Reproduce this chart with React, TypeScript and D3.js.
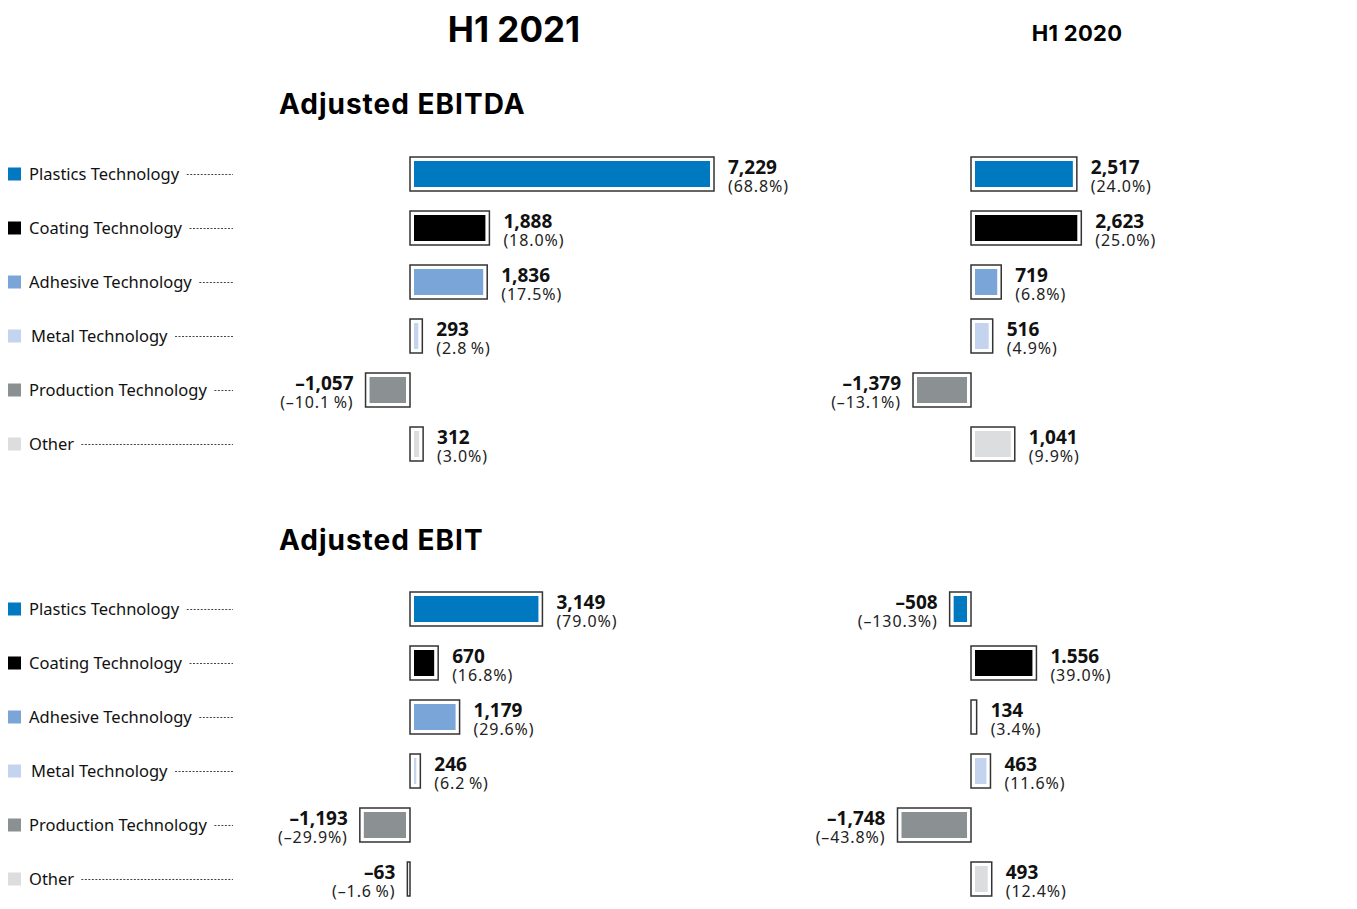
import React, { useEffect, useRef } from 'react';
import * as d3 from 'd3';

const categories = [
  'Plastics Technology',
  'Coating Technology',
  'Adhesive Technology',
  'Metal Technology',
  'Production Technology',
  'Other',
];
const colors = ['#0079c1', '#000000', '#7aa5d8', '#c4d4ee', '#8b9193', '#dcdddf'];

// Adjusted EBITDA
const ebitda2021 = [7229, 1888, 1836, 293, -1057, 312];
const ebitda2021Labels = ['7,229', '1,888', '1,836', '293', '–1,057', '312'];
const ebitda2021Pct = ['(68.8%)', '(18.0%)', '(17.5%)', '(2.8\u2009%)', '(–10.1\u2009%)', '(3.0%)'];
const ebitda2020 = [2517, 2623, 719, 516, -1379, 1041];
const ebitda2020Labels = ['2,517', '2,623', '719', '516', '–1,379', '1,041'];
const ebitda2020Pct = ['(24.0%)', '(25.0%)', '(6.8%)', '(4.9%)', '(–13.1%)', '(9.9%)'];

// Adjusted EBIT
const ebit2021 = [3149, 670, 1179, 246, -1193, -63];
const ebit2021Labels = ['3,149', '670', '1,179', '246', '–1,193', '–63'];
const ebit2021Pct = ['(79.0%)', '(16.8%)', '(29.6%)', '(6.2\u2009%)', '(–29.9%)', '(–1.6\u2009%)'];
const ebit2020 = [-508, 1556, 134, 463, -1748, 493];
const ebit2020Labels = ['–508', '1.556', '134', '463', '–1,748', '493'];
const ebit2020Pct = ['(–130.3%)', '(39.0%)', '(3.4%)', '(11.6%)', '(–43.8%)', '(12.4%)'];

const panels = [
  {
    title: 'Adjusted EBITDA',
    titleY: 114,
    rows: [174, 444],
    cols: [
      { values: ebitda2021, labels: ebitda2021Labels, pct: ebitda2021Pct },
      { values: ebitda2020, labels: ebitda2020Labels, pct: ebitda2020Pct },
    ],
  },
  {
    title: 'Adjusted EBIT',
    titleY: 550,
    rows: [609, 879],
    cols: [
      { values: ebit2021, labels: ebit2021Labels, pct: ebit2021Pct },
      { values: ebit2020, labels: ebit2020Labels, pct: ebit2020Pct },
    ],
  },
];

const W = 1357;
const H = 909;
const zeros = [410, 971];
const labelFont = '"Noto Sans", "Open Sans", sans-serif';
const titleFont = 'Inter, "Noto Sans", sans-serif';

export default function App() {
  const svgRef = useRef<SVGSVGElement>(null);

  useEffect(() => {
    document.body.style.margin = '0';
    const svg = d3.select(svgRef.current);
    svg.selectAll('*').remove();

    // one px scale for all bars
    const len = d3.scaleLinear().domain([0, 7229]).range([0, 304]);

    svg.append('text')
      .attr('x', 514).attr('y', 42)
      .attr('text-anchor', 'middle')
      .style('font-family', titleFont).style('font-weight', 700).style('font-size', '35px')
      .text('H1 2021');

    svg.append('text')
      .attr('x', 1077).attr('y', 41)
      .attr('text-anchor', 'middle')
      .style('font-family', titleFont).style('font-weight', 700).style('font-size', '22px')
      .style('letter-spacing', '0.3px')
      .text('H1 2020');

    panels.forEach(p => {
      const y = d3.scalePoint<string>().domain(categories).range(p.rows as [number, number]);

      svg.append('text')
        .attr('x', 279).attr('y', p.titleY)
        .style('font-family', titleFont).style('font-weight', 700).style('font-size', '28px')
        .style('letter-spacing', '1px')
        .text(p.title);

      // category legend with dotted leaders
      const leg = svg.append('g').selectAll('g')
        .data(categories)
        .enter().append('g')
        .attr('transform', d => `translate(0, ${y(d)})`);

      leg.append('rect')
        .attr('x', 8).attr('y', -6.5)
        .attr('width', 13).attr('height', 13)
        .attr('fill', (d, i) => colors[i]);

      leg.append('text')
        .attr('x', (d, i) => i === 3 ? 31 : 29)
        .attr('y', 6)
        .style('font-family', labelFont).style('font-size', '16.5px').style('fill', '#111')
        .text(d => d)
        .each(function () {
          const t = this as SVGTextElement;
          const end = t.getBBox().x + t.getBBox().width + 7;
          d3.select(t.parentNode as SVGGElement).append('line')
            .attr('x1', end).attr('x2', 233)
            .attr('y1', 0.5).attr('y2', 0.5)
            .attr('stroke', '#444')
            .attr('stroke-width', 1)
            .attr('stroke-dasharray', '2,1.5');
        });

      p.cols.forEach((c, ci) => {
        const z = zeros[ci];
        const g = svg.append('g');
        const rows = g.selectAll('g')
          .data(c.values)
          .enter().append('g')
          .attr('transform', (d, i) => `translate(0, ${y(categories[i])})`);

        const x0 = (d: number) => d >= 0 ? z : z - len(-d);
        const w = (d: number) => len(Math.abs(d));

        rows.append('rect')
          .attr('x', d => x0(d)).attr('y', -17)
          .attr('width', d => w(d)).attr('height', 34)
          .attr('fill', '#fff')
          .attr('stroke', '#333')
          .attr('stroke-width', 1.5);

        rows.append('rect')
          .attr('x', d => x0(d) + 4).attr('y', -13)
          .attr('width', d => Math.max(0, w(d) - 8)).attr('height', 26)
          .attr('fill', (d, i) => colors[i]);

        const tx = (d: number) => d >= 0 ? z + w(d) + 14 : z - w(d) - 12;
        const anchor = (d: number) => d >= 0 ? 'start' : 'end';

        rows.append('text')
          .attr('x', d => tx(d)).attr('y', 0)
          .attr('text-anchor', d => anchor(d))
          .style('font-family', labelFont).style('font-weight', 700).style('font-size', '19px')
          .style('fill', '#111')
          .text((d, i) => c.labels[i]);

        rows.append('text')
          .attr('x', d => tx(d)).attr('y', 18)
          .attr('text-anchor', d => anchor(d))
          .style('font-family', labelFont).style('font-size', '16px')
          .style('letter-spacing', '0.9px')
          .style('fill', '#222')
          .text((d, i) => c.pct[i]);
      });
    });
  }, []);

  return <svg ref={svgRef} width={W} height={H} style={{ display: 'block', background: '#fff' }} />;
}
